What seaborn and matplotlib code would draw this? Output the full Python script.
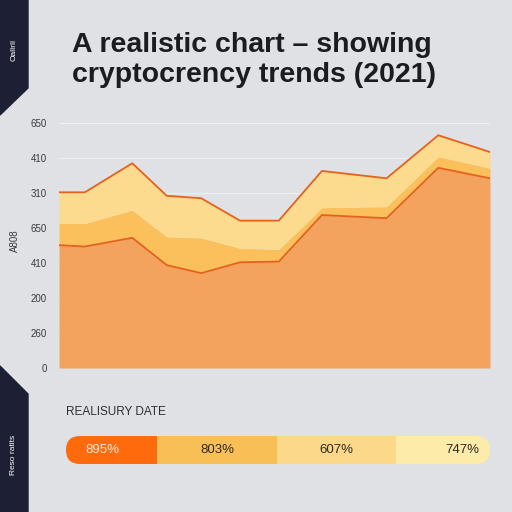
import numpy as np
import matplotlib
matplotlib.use("Agg")
import matplotlib.pyplot as plt
from matplotlib.patches import Polygon, FancyBboxPatch
import seaborn as sns

# chart data
x_pos = [0, 6, 17, 25, 33, 42, 51, 61, 76, 88, 100]
base_layer = [351, 347, 372, 294, 271, 302, 304, 437, 428, 572, 542]
mid_layer = [62, 66, 79, 81, 101, 40, 35, 21, 33, 32, 29]
top_layer = [89, 89, 134, 117, 113, 79, 82, 105, 81, 61, 46]
y_ticks = [0, 100, 200, 300, 400, 500, 600, 700]
y_tick_labels = ["0", "260", "200", "410", "650", "310", "410", "650"]

bar_shares = [21.5, 28.3, 28.1, 22.1]
bar_labels = ["895%", "803%", "607%", "747%"]

BG = "#DFE1E4"
NAVY = "#1D2035"
area_colors = ["#F4A35E", "#FBC05C", "#FDDB8E"]
line_color = "#E4621C"
bar_colors = ["#FF6A0C", "#F8BF57", "#FCD98A", "#FCEBA9"]

sns.set_theme(style="white")
plt.rcParams["font.family"] = ["Liberation Sans", "DejaVu Sans"]

fig = plt.figure(figsize=(5.12, 5.12), dpi=100)
fig.patch.set_facecolor(BG)

# dark side strips
fig.patches.append(Polygon([[0, 1], [28 / 512, 1], [28 / 512, 1 - 88 / 512], [0, 1 - 115 / 512]],
                           closed=True, transform=fig.transFigure, color=NAVY, zorder=0))
fig.patches.append(Polygon([[0, 1 - 366 / 512], [28 / 512, 1 - 394 / 512], [28 / 512, 0], [0, 0]],
                           closed=True, transform=fig.transFigure, color=NAVY, zorder=0))
fig.text(14 / 512, 1 - 50 / 512, "Oallrll", rotation=90, color="white", fontsize=6,
         ha="center", va="center")
fig.text(14 / 512, 1 - 455 / 512, "Reso ratits", rotation=90, color="white", fontsize=6,
         ha="center", va="center")

fig.text(72 / 512, 1 - 60 / 512, "A realistic chart – showing\ncryptocrency trends (2021)",
         fontsize=20.5, fontweight="bold", color="#1B1B22", ha="left", va="center",
         linespacing=1.2)

# main area chart
ax = fig.add_axes([59 / 512, 1 - 368 / 512, 431 / 512, 245 / 512])
ax.set_facecolor(BG)
ax.stackplot(x_pos, base_layer, mid_layer, top_layer, colors=area_colors, linewidth=0, zorder=2)
top_edge = np.array(base_layer) + np.array(mid_layer) + np.array(top_layer)
sns.lineplot(x=x_pos, y=top_edge, color=line_color, linewidth=1.3, ax=ax, zorder=3)
sns.lineplot(x=x_pos, y=base_layer, color=line_color, linewidth=1.3, ax=ax, zorder=3)
ax.set_xlim(0, 100)
ax.set_ylim(0, 700)
ax.set_yticks(y_ticks)
ax.set_yticklabels(y_tick_labels, fontsize=7, color="#3A3A40")
ax.set_xticks([])
ax.tick_params(axis="y", length=0, pad=9)
ax.yaxis.grid(True, color="#EEEFF1", linewidth=0.8, zorder=1)
ax.set_axisbelow(True)
for s in ax.spines.values():
    s.set_visible(False)
ax.set_ylabel("A808", fontsize=7, color="#3A3A40")
ax.yaxis.set_label_coords(-0.09, 0.52)

# bottom share bar
fig.text(66 / 512, 1 - 412 / 512, "REALISURY DATE", fontsize=8.5, color="#2E2E33",
         ha="left", va="center")
bax = fig.add_axes([66 / 512, 1 - 464 / 512, 424 / 512, 28 / 512])
bax.set_facecolor(BG)
total = sum(bar_shares)
x_per_px = total / 424
y_per_px = 1 / 28
clip = FancyBboxPatch((0, 0), total, 1,
                      boxstyle="round,pad=0,rounding_size=%f" % (14 * x_per_px),
                      mutation_aspect=y_per_px / x_per_px, transform=bax.transData,
                      facecolor="none", edgecolor="none")
bax.add_patch(clip)
left = 0
for i, (share, col, lab) in enumerate(zip(bar_shares, bar_colors, bar_labels)):
    b = bax.barh(0.5, share, left=left, height=1, color=col, linewidth=0)
    for p in b:
        p.set_clip_path(clip)
    tcol = "#FFE9D8" if i == 0 else "#2E2A26"
    tx = left + share * (0.4 if i == 0 else (0.5 if i < 3 else 0.7))
    bax.text(tx, 0.5, lab, ha="center", va="center", fontsize=9.5, color=tcol)
    left += share
bax.set_xlim(0, total)
bax.set_ylim(0, 1)
bax.axis("off")

fig.savefig("out.png", dpi=100, facecolor=BG)
